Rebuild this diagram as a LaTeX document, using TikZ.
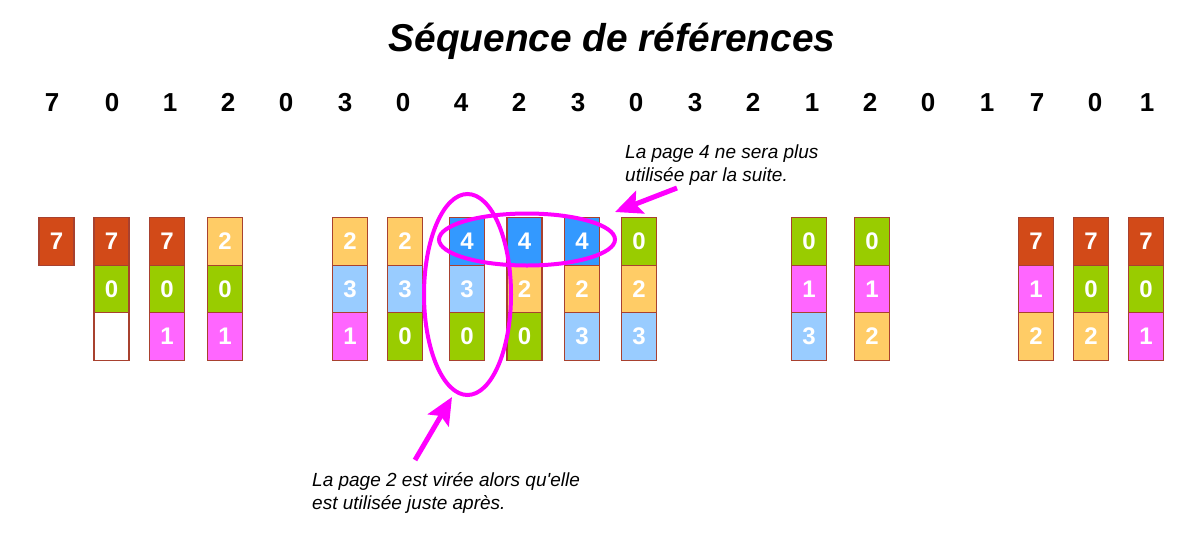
\documentclass[tikz,border=0pt]{standalone}
\usepackage{fontspec}
\setmainfont{Liberation Sans}[Ligatures=TeXOff]
\usetikzlibrary{arrows.meta,shapes.geometric}
\definecolor{c7}{HTML}{D24A18}
\definecolor{c0}{HTML}{99CC00}
\definecolor{c1}{HTML}{FF66FF}
\definecolor{c2}{HTML}{FFCC66}
\definecolor{c3}{HTML}{99CCFF}
\definecolor{c4}{HTML}{3399FF}
\definecolor{frameC}{HTML}{A8412F}
\definecolor{mag}{HTML}{FF00FF}
\begin{document}
\begin{tikzpicture}[x=1pt,y=-1pt,
  pagebox/.style={draw=frameC, line width=1.3pt, fill=c#1, minimum width=35pt,
    minimum height=47.5pt, inner sep=0pt, text=white,
    font=\fontsize{24}{24}\selectfont\bfseries},
  emptybox/.style={draw=frameC, line width=1.3pt, fill=white, minimum width=35pt,
    minimum height=47.5pt, inner sep=0pt},
  seqnum/.style={font=\fontsize{26}{26}\selectfont\bfseries, inner sep=0pt},
  titletext/.style={font=\fontsize{38.8}{38.8}\selectfont\bfseries\itshape, inner sep=0pt, anchor=base},
  note/.style={font=\fontsize{19}{23}\selectfont\itshape, inner sep=0pt, anchor=base west},
  ring/.style={draw=mag, line width=4pt, ellipse, inner sep=0pt},
  marrow/.style={draw=mag, line width=5pt, -{Stealth[length=27pt,width=24pt,inset=5pt]}}
]
\useasboundingbox (0,0) rectangle (1202,539);

\node[titletext] (title) at (612,51) {Séquence de références};

\foreach \x/\v [count=\i] in {52/7,112/0,170/1,228/2,286/0,345/3,403/0,461/4,519/2,578/3,
  636/0,695/3,753/2,812/1,870/2,928/0,987/1,1037/7,1095/0,1147/1}
  \node[seqnum] (s\i) at (\x,102.5) {\v};

% frames
\foreach \x/\n/\vals in {56.5/1/{7}, 167/3/{7,0,1}, 225/4/{2,0,1},
  350/6/{2,3,1}, 405/7/{2,3,0}, 467/8/{4,3,0}, 524.5/9/{4,2,0}, 582/10/{4,2,3},
  639/11/{0,2,3}, 809/14/{0,1,3}, 872/15/{0,1,2}, 1036/18/{7,1,2},
  1091/19/{7,0,2}, 1146/20/{7,0,1}}{
  \foreach \v [count=\r] in \vals
    \node[pagebox=\v] (b\n-\r) at (\x,{241.5+47.5*(\r-1)}) {\v};
}
\node[pagebox=7] (b2-1) at (111.5,241.5) {7};
\node[pagebox=0] (b2-2) at (111.5,289) {0};
\node[emptybox] (b2-3) at (111.5,336.5) {};

% ellipses
\node[ring, minimum width=176pt, minimum height=52pt] (e4) at (527,239.5) {};
\node[ring, minimum width=87pt, minimum height=201pt] (e2) at (467.5,294.5) {};

% notes
\node[note] (n4a) at (625,158) {La page 4 ne sera plus};
\node[note] (n4b) at (625,181) {utilisée par la suite.};
\node[note] (n2a) at (312,486) {La page 2 est virée alors qu'elle};
\node[note] (n2b) at (312,509) {est utilisée juste après.};

\coordinate (t4) at (677,188);
\coordinate (h4) at (615,212);
\coordinate (t2) at (415,460);
\coordinate (h2) at (452,397);
\draw[marrow] (t4) -- (h4);
\draw[marrow] (t2) -- (h2);
\end{tikzpicture}
\end{document}
